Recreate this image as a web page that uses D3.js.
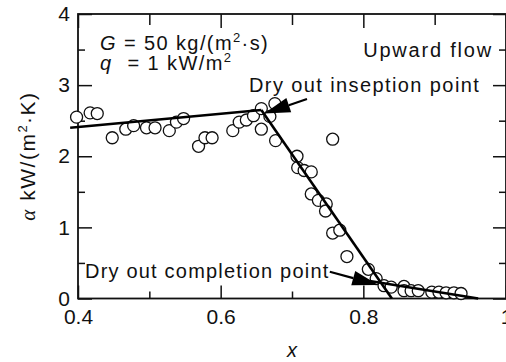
<!DOCTYPE html>
<html>
<head>
<meta charset="utf-8">
<script src="https://cdn.jsdelivr.net/npm/d3@7"></script>
<style>
  body { margin: 0; background: #fff; }
  svg { display: block; font-family: "Liberation Sans", Arial, sans-serif; }
</style>
</head>
<body>
<svg id="chart" width="506" height="362"></svg>
<script>
// quality x vs heat transfer coefficient alpha
const quality = [0.398, 0.417, 0.427, 0.448, 0.467, 0.478, 0.496, 0.508, 0.528, 0.538,
  0.548, 0.569, 0.578, 0.588, 0.617, 0.626, 0.636, 0.646, 0.657, 0.676,
  0.669, 0.657, 0.677, 0.757, 0.707, 0.708, 0.717, 0.727, 0.727, 0.737,
  0.748, 0.747, 0.757, 0.767, 0.777, 0.807, 0.818, 0.829, 0.839, 0.857,
  0.857, 0.867, 0.877, 0.896, 0.906, 0.916, 0.927, 0.937];
const alpha = [2.55, 2.61, 2.60, 2.26, 2.38, 2.43, 2.40, 2.40, 2.36, 2.48,
  2.53, 2.14, 2.26, 2.26, 2.36, 2.48, 2.51, 2.57, 2.67, 2.74,
  2.56, 2.38, 2.22, 2.24, 2.00, 1.84, 1.80, 1.78, 1.47, 1.38,
  1.33, 1.23, 0.92, 0.96, 0.59, 0.41, 0.28, 0.18, 0.16, 0.17,
  0.11, 0.11, 0.11, 0.09, 0.09, 0.08, 0.08, 0.07];

// fitted trend segments [x, alpha]
const fitBefore = [[0.389, 2.40], [0.657, 2.65]];
const fitDrop = [[0.657, 2.65], [0.840, 0.0]];
const fitAfter = [[0.809, 0.246], [0.961, 0.0]];

// annotation arrows: tail -> tip
const arrowInception = [[0.721, 2.805], [0.661, 2.60]];
const arrowCompletion = [[0.753, 0.377], [0.821, 0.19]];

const xMajor = [0.4, 0.6, 0.8, 1.0];
const xMinor = [0.5, 0.7, 0.9];
const yMajor = [0, 1, 2, 3, 4];
const yMinor = [0.5, 1.5, 2.5, 3.5];

const m = { left: 78, right: 506, top: 14, bottom: 298.5 };

const svg = d3.select("#chart");
const x = d3.scaleLinear().domain([0.4, 1.0]).range([m.left, m.right]);
const y = d3.scaleLinear().domain([0, 4]).range([m.bottom, m.top]);

const fmt = (d) => d3.format("")(+d.toFixed(1));

function styleAxis(g) {
  g.select(".domain").remove();
  g.selectAll("line").attr("stroke", "#111").attr("stroke-width", 1.5);
  g.selectAll("text").attr("fill", "#111").attr("font-size", 21);
}

// bottom
svg.append("g").attr("transform", `translate(0,${m.bottom})`)
  .call(d3.axisBottom(x).tickValues(xMajor).tickSize(-13).tickPadding(10.5).tickFormat(fmt))
  .call(styleAxis);
svg.append("g").attr("transform", `translate(0,${m.bottom})`)
  .call(d3.axisBottom(x).tickValues(xMinor).tickSize(-7).tickFormat(""))
  .call(styleAxis);
// top
svg.append("g").attr("transform", `translate(0,${m.top})`)
  .call(d3.axisTop(x).tickValues(xMajor).tickSize(-14).tickFormat(""))
  .call(styleAxis);
svg.append("g").attr("transform", `translate(0,${m.top})`)
  .call(d3.axisTop(x).tickValues(xMinor).tickSize(-11).tickFormat(""))
  .call(styleAxis);
// left
svg.append("g").attr("transform", `translate(${m.left},0)`)
  .call(d3.axisLeft(y).tickValues(yMajor).tickSize(-14).tickPadding(8).tickFormat(d3.format("d")))
  .call(styleAxis);
svg.append("g").attr("transform", `translate(${m.left},0)`)
  .call(d3.axisLeft(y).tickValues(yMinor).tickSize(-7).tickFormat(""))
  .call(styleAxis);
// right
svg.append("g").attr("transform", `translate(${m.right},0)`)
  .call(d3.axisRight(y).tickValues(yMajor).tickSize(-13).tickFormat(""))
  .call(styleAxis);
svg.append("g").attr("transform", `translate(${m.right},0)`)
  .call(d3.axisRight(y).tickValues(yMinor).tickSize(-7).tickFormat(""))
  .call(styleAxis);

// frame
svg.append("rect")
  .attr("x", m.left).attr("y", m.top)
  .attr("width", m.right - m.left).attr("height", m.bottom - m.top)
  .attr("fill", "none").attr("stroke", "#111").attr("stroke-width", 1.8);

// points
svg.append("g")
  .selectAll("circle")
  .data(quality.map((q, i) => [q, alpha[i]]))
  .join("circle")
  .attr("cx", (d) => x(d[0]))
  .attr("cy", (d) => y(d[1]))
  .attr("r", 6)
  .attr("fill", "#fff")
  .attr("stroke", "#111")
  .attr("stroke-width", 1.3);

// fit lines
const line = d3.line().x((d) => x(d[0])).y((d) => y(d[1]));
[fitBefore, fitDrop, fitAfter].forEach((seg) => {
  svg.append("path").attr("d", line(seg))
    .attr("fill", "none").attr("stroke", "#000").attr("stroke-width", 2.6);
});

// arrows
function arrow(seg) {
  const [x0, y0] = [x(seg[0][0]), y(seg[0][1])];
  const [x1, y1] = [x(seg[1][0]), y(seg[1][1])];
  const a = Math.atan2(y1 - y0, x1 - x0);
  const hl = 26, hw = 7.5;
  const bx = x1 - hl * Math.cos(a), by = y1 - hl * Math.sin(a);
  svg.append("line").attr("x1", x0).attr("y1", y0).attr("x2", bx).attr("y2", by)
    .attr("stroke", "#000").attr("stroke-width", 2.2);
  svg.append("path")
    .attr("d", d3.line()([[x1, y1],
      [bx + hw * Math.sin(a), by - hw * Math.cos(a)],
      [bx - hw * Math.sin(a), by + hw * Math.cos(a)]]) + "Z")
    .attr("fill", "#000");
}
arrow(arrowInception);
arrow(arrowCompletion);

// labels
const txt = svg.append("g").attr("fill", "#111").attr("font-size", 20);

const g1 = txt.append("text").attr("x", 100).attr("y", 50).attr("letter-spacing", 1.4);
g1.append("tspan").attr("font-style", "italic").text("G");
g1.append("tspan").text(" = 50 kg/(m");
g1.append("tspan").attr("font-size", 13).attr("dy", -8).text("2");
g1.append("tspan").attr("dy", 8).text("·s)");

const g2 = txt.append("text").attr("x", 100).attr("y", 69.5).attr("letter-spacing", 1.4);
g2.append("tspan").attr("font-style", "italic").text("q");
g2.append("tspan").attr("dx", 8).text(" = 1 kW/m");
g2.append("tspan").attr("font-size", 13).attr("dy", -8).text("2");

txt.append("text").attr("x", 493).attr("y", 57).attr("text-anchor", "end")
  .attr("letter-spacing", 1.8).text("Upward flow");
txt.append("text").attr("x", 249).attr("y", 92).attr("letter-spacing", 1.4)
  .text("Dry out inseption point");
txt.append("text").attr("x", 85).attr("y", 277.5).attr("letter-spacing", 1.2)
  .text("Dry out completion point");

// axis titles
txt.append("text").attr("x", x(0.7)).attr("y", 357).attr("text-anchor", "middle")
  .attr("font-style", "italic").text("x");
const yl = txt.append("text").attr("transform", "translate(35,156) rotate(-90)")
  .attr("text-anchor", "middle").attr("font-size", 21).attr("letter-spacing", 1.5);
yl.append("tspan").attr("font-family", "'Liberation Serif', serif")
  .attr("font-style", "italic").text("α");
yl.append("tspan").text("  kW/(m");
yl.append("tspan").attr("font-size", 13).attr("dy", -8).text("2");
yl.append("tspan").attr("dy", 8).text("·K)");
</script>
</body>
</html>
